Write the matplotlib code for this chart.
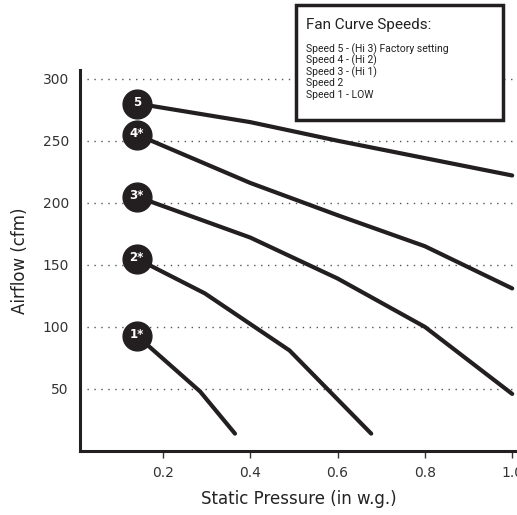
import numpy as np
import matplotlib.pyplot as plt
from matplotlib.patches import Rectangle

# Fan curve data
speed5_x = [0.14, 0.40, 0.60, 0.80, 1.00]
speed5_y = [280, 265, 250, 236, 222]
speed4_x = [0.14, 0.40, 0.60, 0.80, 1.00]
speed4_y = [255, 216, 190, 165, 131]
speed3_x = [0.14, 0.40, 0.60, 0.80, 1.00]
speed3_y = [205, 172, 139, 100, 46]
speed2_x = [0.14, 0.296, 0.49, 0.677]
speed2_y = [155, 127, 81, 14]
speed1_x = [0.14, 0.285, 0.365]
speed1_y = [93, 48, 14]

curves = [(speed5_x, speed5_y, "5"), (speed4_x, speed4_y, "4*"),
          (speed3_x, speed3_y, "3*"), (speed2_x, speed2_y, "2*"),
          (speed1_x, speed1_y, "1*")]

legend_title = "Fan Curve Speeds:"
legend_items = ["Speed 5 - (Hi 3) Factory setting", "Speed 4 - (Hi 2)",
                "Speed 3 - (Hi 1)", "Speed 2", "Speed 1 - LOW"]

xticks = [0.2, 0.4, 0.6, 0.8, 1.0]
yticks = [50, 100, 150, 200, 250, 300]

W, H = 517, 515
fig = plt.figure(figsize=(W / 100, H / 100), dpi=100)
ax = fig.add_axes([80 / W, (H - 451) / H, 437 / W, 381 / H])
ax.set_xlim(0.01, 1.011)
ax.set_ylim(0, 307)

dark = "#231f20"
for xs, ys, lab in curves:
    ax.plot(xs, ys, color=dark, lw=3.0, solid_capstyle="round", zorder=3)
    ax.scatter([xs[0]], [ys[0]], s=430, color=dark, zorder=4)
    ax.text(xs[0], ys[0] + 1, lab, color="white", fontsize=8.5, fontweight="bold",
            ha="center", va="center", zorder=5)

for yv in yticks:
    ax.axhline(yv, color="#555555", lw=1.0, ls=(0, (1, 4)), zorder=1)

ax.set_xticks(xticks)
ax.set_xticklabels([f"{v:.1f}" for v in xticks])
ax.set_yticks(yticks)
ax.tick_params(axis="y", length=0, pad=8, labelsize=10, colors="#333333")
ax.tick_params(axis="x", length=5, width=1, pad=6, labelsize=10, colors="#333333")
for s in ["top", "right"]:
    ax.spines[s].set_visible(False)
for s in ["left", "bottom"]:
    ax.spines[s].set_linewidth(2.2)
    ax.spines[s].set_color(dark)

ax.set_xlabel("Static Pressure (in w.g.)", fontsize=12, color="#222222", labelpad=7)
ax.set_ylabel("Airflow (cfm)", fontsize=12, color="#222222", labelpad=10)

# Legend box
fig.patches.append(Rectangle((296 / W, 1 - 120 / H), 207 / W, 115 / H,
                             transform=fig.transFigure, facecolor="white",
                             edgecolor=dark, lw=2.5, zorder=10))
box_font = "Roboto"
fig.text(306 / W, 1 - 25 / H, legend_title, fontsize=11, family=box_font,
         color="#222222", va="center", zorder=11)
for i, item in enumerate(legend_items):
    fig.text(306 / W, 1 - (49 + i * 11.5) / H, item, fontsize=7.5, family=box_font,
             color="#222222", va="center", zorder=11)

plt.savefig("out.png", dpi=100)
plt.close()
